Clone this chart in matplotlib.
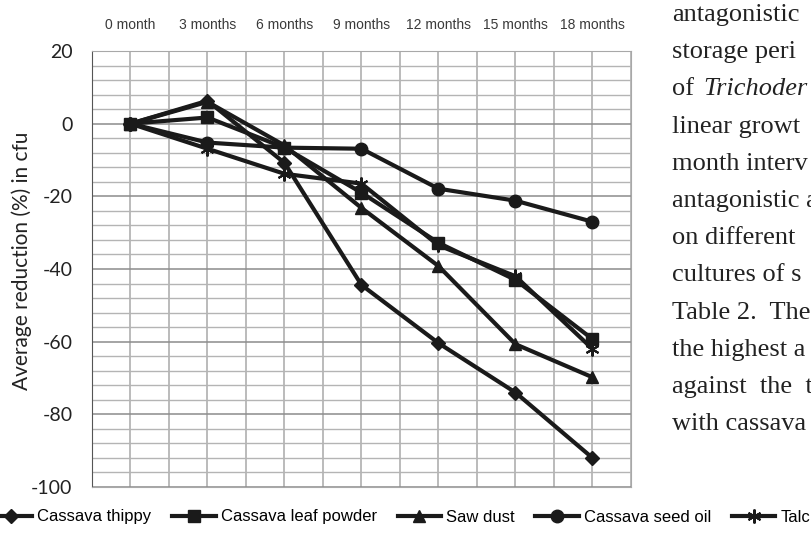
import numpy as np
import matplotlib
matplotlib.use("Agg")
import matplotlib.pyplot as plt
from matplotlib.ticker import MultipleLocator

plt.rcParams["axes.unicode_minus"] = False

# data
months = ["0 month", "3 months", "6 months", "9 months", "12 months", "15 months", "18 months"]
cassava_thippy = [0, 6.3, -10.8, -44.4, -60.4, -74.0, -92.0]
cassava_leaf_powder = [0, 1.7, -6.6, -19.0, -32.8, -43.0, -59.3]
saw_dust = [0, 6.0, -6.0, -23.2, -39.2, -60.7, -69.8]
cassava_seed_oil = [0, -5.2, -6.6, -6.9, -17.9, -21.2, -27.0]
talc = [0, -6.9, -13.8, -16.5, -33.5, -42.0, -62.0]

series = [
    ("Cassava thippy", cassava_thippy, "D", 7),
    ("Cassava leaf powder", cassava_leaf_powder, "s", 8.5),
    ("Saw dust", saw_dust, "^", 8.5),
    ("Cassava seed oil", cassava_seed_oil, "o", 9),
    ("Talc", talc, (6, 2, 0), 10),
]

# running text of the page (cut by the right edge in the reference)
body_lines = ["antagonistic", "storage peri", "", "linear growt", "month interv",
              "antagonistic a", "on different", "cultures of s", "Table 2.  The",
              "the highest a", "against  the  t", "with cassava"]

fig = plt.figure(figsize=(8.12, 5.41), dpi=100)
ax = fig.add_axes([92/812, 1-487/541, (631-92)/812, (487-51)/541])

x = np.arange(len(months))
for name, vals, mk, ms in series:
    ax.plot(x, vals, color="#1a1a1a", lw=3, marker=mk, markersize=ms,
            markeredgewidth=1.5 if mk == (6, 2, 0) else 1, label=name, zorder=3)

ax.set_xlim(-0.5, len(months) - 0.5)
ax.set_ylim(-100, 20)
ax.yaxis.set_major_locator(MultipleLocator(20))
ax.yaxis.set_minor_locator(MultipleLocator(4))
ax.grid(which="major", axis="y", color="#8c8c8c", lw=1.1)
ax.grid(which="minor", axis="y", color="#b4b4b4", lw=1)
ax.set_axisbelow(True)

ax.xaxis.tick_top()
ax.set_xticks(x)
ax.set_xticklabels(months, fontsize=10, color="#3a3a3a", family="Liberation Sans")
ax.set_xticks(np.arange(-0.5, len(months), 1.0), minor=True)
ax.grid(which="both", axis="x", color="#a8a8a8", lw=1.1)
ax.tick_params(which="both", length=0)
ax.tick_params(axis="x", pad=14)
for lab in ax.get_yticklabels():
    lab.set_family("Lato")
    lab.set_fontsize(14)
ax.tick_params(axis="y", pad=14, labelcolor="#222222")
ax.set_ylabel("Average reduction (%) in cfu", fontsize=15, family="Lato", color="#222222")
ax.yaxis.set_label_coords(-0.111, 0.518)

for s in ["top", "right", "bottom"]:
    ax.spines[s].set_color("#a8a8a8")
ax.spines["left"].set_color("#555555")

fig.legend(loc="center", bbox_to_anchor=(0.492, 1-517/541), ncol=5, frameon=False,
           handlelength=2.6, columnspacing=1.25, handletextpad=0.3,
           prop={"family": "Liberation Sans", "size": 12})

for i, line in enumerate(body_lines):
    fig.text(672/812, 1-(15 + i*37.2)/541, line, fontsize=19, family="Liberation Serif",
             color="#222222", va="center", ha="left")
fig.text(672/812, 1-(15 + 2*37.2)/541, "of", fontsize=19, family="Liberation Serif",
         color="#222222", va="center", ha="left")
fig.text(703/812, 1-(15 + 2*37.2)/541, "Trichoder", fontsize=19, family="Liberation Serif",
         style="italic", color="#222222", va="center", ha="left")

fig.savefig("out.png", dpi=100)
